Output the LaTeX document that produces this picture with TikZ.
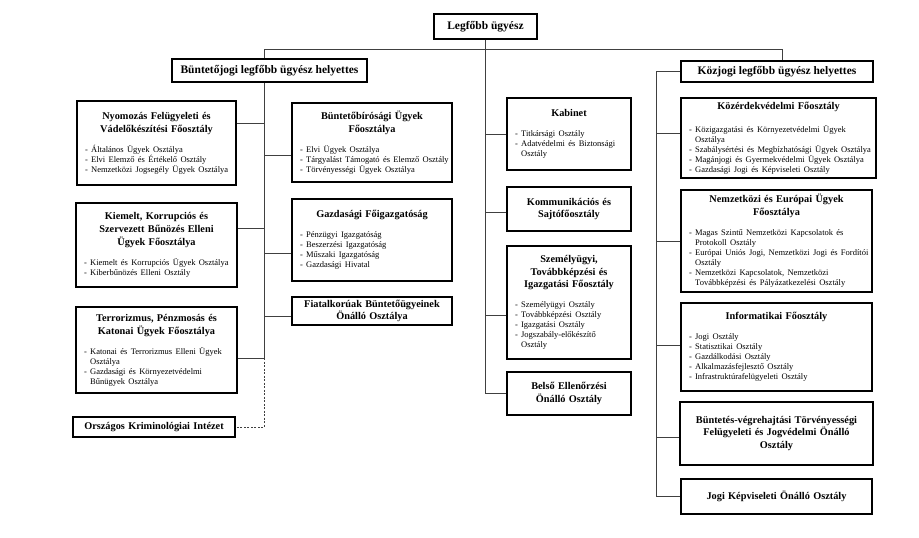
\documentclass[tikz,border=0pt]{standalone}
\usepackage{fontspec}
\setmainfont{Liberation Serif}
\newcommand\boxtitle{\fontsize{10.3}{12.8}\selectfont\bfseries}
\newcommand\toptitle{\fontsize{11.5}{14}\selectfont\bfseries}
\newcommand\boxitems{\fontsize{8.5}{10}\selectfont}
\newcommand\orgline[1]{\mbox{#1}}
\newcommand\contind{\hphantom{- }}
\begin{document}
\begin{tikzpicture}[x=1pt,y=-1pt,
  box/.style={draw, line width=1.1pt, fill=white, inner sep=0pt, inner xsep=8pt, anchor=center},
  topbox/.style={draw, line width=1.1pt, fill=white, inner sep=0pt, anchor=center, font=\toptitle},
  conn/.style={draw=black!75, line width=0.9pt},
  dconn/.style={conn, dash pattern=on 2pt off 1.5pt}]
\useasboundingbox (0,0) rectangle (919,538);

% top level
\node[topbox, minimum width=103pt, minimum height=25pt] (top) at (485.5,26.5) {Legfőbb ügyész};
\node[topbox, minimum width=195pt, minimum height=23pt] (buntj) at (269.5,70.5) {Büntetőjogi legfőbb ügyész helyettes};
\node[topbox, minimum width=192pt, minimum height=21pt] (kozj) at (777,71.5) {Közjogi legfőbb ügyész helyettes};

% left column
\node[box, minimum width=159pt, minimum height=84pt, text width=143pt] (nyo) at (156.5,143) {%
{\centering\boxtitle Nyomozás Felügyeleti és\\Vádelőkészítési Főosztály\par}\vspace{10pt}%
{\raggedright\boxitems\orgline{- Általános Ügyek Osztálya}\\\orgline{- Elvi Elemző és Értékelő Osztály}\\\orgline{- Nemzetközi Jogsegély Ügyek Osztálya}\par}};

\node[box, minimum width=161pt, minimum height=84pt, text width=145pt] (kie) at (156.5,245) {%
{\centering\boxtitle Kiemelt, Korrupciós és\\Szervezett Bűnözés Elleni\\Ügyek Főosztálya\par}\vspace{10pt}%
{\raggedright\boxitems\orgline{- Kiemelt és Korrupciós Ügyek Osztálya}\\\orgline{- Kiberbűnözés Elleni Osztály}\par}};

\node[box, minimum width=161pt, minimum height=86pt, text width=145pt] (ter) at (156.5,350) {%
{\centering\boxtitle Terrorizmus, Pénzmosás és\\Katonai Ügyek Főosztálya\par}\vspace{10pt}%
{\raggedright\boxitems\orgline{- Katonai és Terrorizmus Elleni Ügyek}\\\orgline{\contind Osztálya}\\\orgline{- Gazdasági és Környezetvédelmi}\\\orgline{\contind Bűnügyek Osztálya}\par}};

\node[box, minimum width=162pt, minimum height=20pt, text width=146pt] (orsz) at (154,427) {%
{\centering\boxtitle Országos Kriminológiai Intézet\par}};

% second column
\node[box, minimum width=160pt, minimum height=79pt, text width=144pt] (bir) at (372,142.5) {%
{\centering\boxtitle Büntetőbírósági Ügyek\\Főosztálya\par}\vspace{10pt}%
{\raggedright\boxitems\orgline{- Elvi Ügyek Osztálya}\\\orgline{- Tárgyalást Támogató és Elemző Osztály}\\\orgline{- Törvényességi Ügyek Osztálya}\par}};

\node[box, minimum width=160pt, minimum height=82pt, text width=144pt] (gaz) at (372,240) {%
{\centering\boxtitle Gazdasági Főigazgatóság\par}\vspace{10pt}%
{\raggedright\boxitems\orgline{- Pénzügyi Igazgatóság}\\\orgline{- Beszerzési Igazgatóság}\\\orgline{- Műszaki Igazgatóság}\\\orgline{- Gazdasági Hivatal}\par}};

\node[box, minimum width=160pt, minimum height=28pt, text width=144pt] (fia) at (372,311) {%
{\centering\boxtitle Fiatalkorúak Büntetőügyeinek\\Önálló Osztálya\par}};

% middle column
\node[box, minimum width=124pt, minimum height=72pt, text width=108pt] (kab) at (569,134) {%
{\centering\boxtitle Kabinet\par}\vspace{10pt}%
{\raggedright\boxitems\orgline{- Titkársági Osztály}\\\orgline{- Adatvédelmi és Biztonsági}\\\orgline{\contind Osztály}\par}};

\node[box, minimum width=124pt, minimum height=44pt, text width=108pt] (kom) at (569,209) {%
{\centering\boxtitle Kommunikációs és\\Sajtófőosztály\par}};

\node[box, minimum width=124pt, minimum height=113pt, text width=108pt] (sze) at (569,302.5) {%
{\centering\boxtitle Személyügyi,\\Továbbképzési és\\Igazgatási Főosztály\par}\vspace{10pt}%
{\raggedright\boxitems\orgline{- Személyügyi Osztály}\\\orgline{- Továbbképzési Osztály}\\\orgline{- Igazgatási Osztály}\\\orgline{- Jogszabály-előkészítő}\\\orgline{\contind Osztály}\par}};

\node[box, minimum width=124pt, minimum height=43pt, text width=108pt] (bel) at (569,393.5) {%
{\centering\boxtitle Belső Ellenőrzési\\Önálló Osztály\par}};

% right column
\node[box, minimum width=195pt, minimum height=80pt, text width=179pt] (koz) at (778.5,138) {%
\vspace*{3pt}{\centering\boxtitle Közérdekvédelmi Főosztály\par}\vspace{10pt}%
{\raggedright\boxitems\orgline{- Közigazgatási és Környezetvédelmi Ügyek}\\\orgline{\contind Osztálya}\\\orgline{- Szabálysértési és Megbízhatósági Ügyek Osztálya}\\\orgline{- Magánjogi és Gyermekvédelmi Ügyek Osztálya}\\\orgline{- Gazdasági Jogi és Képviseleti Osztály}\par}};

\node[box, minimum width=191pt, minimum height=102pt, text width=175pt] (nem) at (776.5,241) {%
{\centering\boxtitle Nemzetközi és Európai Ügyek\\Főosztálya\par}\vspace{10pt}%
{\raggedright\boxitems\orgline{- Magas Szintű Nemzetközi Kapcsolatok és}\\\orgline{\contind Protokoll Osztály}\\\orgline{- Európai Uniós Jogi, Nemzetközi Jogi és Fordítói}\\\orgline{\contind Osztály}\\\orgline{- Nemzetközi Kapcsolatok, Nemzetközi}\\\orgline{\contind Továbbképzési és Pályázatkezelési Osztály}\par}};

\node[box, minimum width=191pt, minimum height=88pt, text width=175pt] (inf) at (776.5,347) {%
{\centering\boxtitle Informatikai Főosztály\par}\vspace{10pt}%
{\raggedright\boxitems\orgline{- Jogi Osztály}\\\orgline{- Statisztikai Osztály}\\\orgline{- Gazdálkodási Osztály}\\\orgline{- Alkalmazásfejlesztő Osztály}\\\orgline{- Infrastruktúrafelügyeleti Osztály}\par}};

\node[box, minimum width=193pt, minimum height=63pt, text width=177pt] (bv) at (776.5,433.5) {%
{\centering\boxtitle Büntetés-végrehajtási Törvényességi\\Felügyeleti és Jogvédelmi Önálló\\Osztály\par}};

\node[box, minimum width=191pt, minimum height=35pt, text width=175pt] (jk) at (776.5,496.5) {%
{\centering\boxtitle Jogi Képviseleti Önálló Osztály\par}};

% junction coordinates
\coordinate (lt) at (264,49);
\coordinate (rtop) at (782,49);
\coordinate (rtx) at (656,0);
\coordinate (nyoC) at ([yshift=20pt]nyo.east);
\coordinate (kieC) at ([yshift=17pt]kie.east);
\coordinate (terC) at ([yshift=-8pt]ter.east);
\coordinate (birC) at ([yshift=-12.5pt]bir.west);
\coordinate (gazC) at ([yshift=-13pt]gaz.west);
\coordinate (fiaC) at ([yshift=-5.5pt]fia.west);
\coordinate (komC) at ([yshift=-3pt]kom.west);
\coordinate (szeC) at ([yshift=-12.5pt]sze.west);
\coordinate (kozC) at ([yshift=5pt]koz.west);
\coordinate (infC) at ([yshift=2pt]inf.west);
\coordinate (bvC) at ([yshift=-3.5pt]bv.west);

% connectors
\draw[conn] (lt) -- (rtop) -- (rtop |- kozj.north);
\draw[conn] (top.south) |- (bel.west);
\draw[conn] (lt) -- (lt |- buntj.north);
\draw[conn] (lt |- buntj.south) -- (lt |- terC);
\draw[dconn] (lt |- terC) |- (orsz.east);
\draw[conn] (nyoC) -- (lt |- nyoC);
\draw[conn] (kieC) -- (lt |- kieC);
\draw[conn] (terC) -- (lt |- terC);
\draw[conn] (birC) -- (lt |- birC);
\draw[conn] (gazC) -- (lt |- gazC);
\draw[conn] (fiaC) -- (lt |- fiaC);
\draw[conn] (kab.west) -- (top.south |- kab.west);
\draw[conn] (komC) -- (top.south |- komC);
\draw[conn] (szeC) -- (top.south |- szeC);
\draw[conn] (kozj.west) -| (rtx |- jk.west) -- (jk.west);
\draw[conn] (kozC) -- (rtx |- kozC);
\draw[conn] (nem.west) -- (rtx |- nem.west);
\draw[conn] (infC) -- (rtx |- infC);
\draw[conn] (bvC) -- (rtx |- bvC);
\end{tikzpicture}
\end{document}
